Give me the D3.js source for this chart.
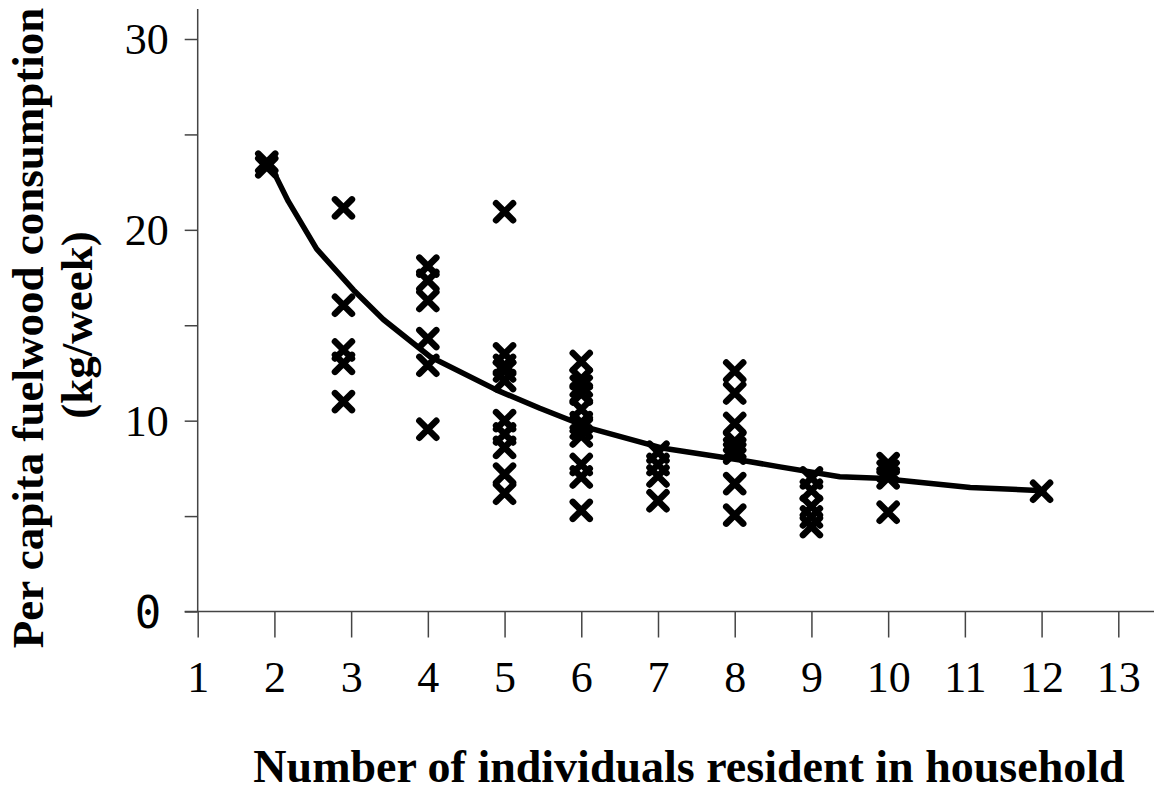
<!DOCTYPE html>
<html>
<head>
<meta charset="utf-8">
<script src="https://cdn.jsdelivr.net/npm/d3@7"></script>
<style>
  html, body { margin: 0; padding: 0; background: #fff; }
  svg { display: block; }
</style>
</head>
<body>
<svg id="chart" width="1154" height="798"></svg>
<script>
// ---- data ----
const householdSize = [
  1.9, 1.9,
  2.9, 2.9, 2.9, 2.9, 2.9,
  4, 4, 4, 4, 4, 4,
  5, 5, 5, 5, 5, 5, 5, 5, 5, 5,
  6, 6, 6, 6, 6, 6, 6, 6, 6, 6, 6,
  7, 7, 7, 7,
  8, 8, 8, 8, 8, 8, 8, 8,
  9, 9, 9, 9, 9,
  10, 10, 10, 10,
  12
];
const consumption = [
  23.3, 23.55,
  21.15, 16.05, 13.7, 13.0, 11.0,
  18.1, 17.35, 16.3, 14.3, 12.9, 9.55,
  20.95, 13.5, 12.9, 12.6, 12.1, 10.0, 9.3, 8.6, 7.2, 6.2,
  13.1, 12.2, 11.8, 11.4, 10.6, 9.9, 9.6, 9.2, 7.7, 7.05, 5.3,
  8.35, 7.7, 7.1, 5.8,
  12.6, 11.45, 9.85, 8.9, 8.55, 8.3, 6.7, 5.05,
  7.0, 6.35, 5.5, 4.95, 4.45,
  7.75, 7.35, 7.0, 5.2,
  6.3
];
// fitted trend line
const trendX = [1.92, 2.18, 2.55, 3.03, 3.42, 4.03, 4.9, 5.46, 6.12, 7.07, 8.07, 8.59, 9.37, 9.89, 11.07, 12.03];
const trendY = [23.6, 21.5, 19.0, 16.85, 15.3, 13.35, 11.6, 10.65, 9.6, 8.55, 7.94, 7.58, 7.06, 6.98, 6.5, 6.33];
const xTicks = [1, 2, 3, 4, 5, 6, 7, 8, 9, 10, 11, 12, 13];
const yTicks = [0, 5, 10, 15, 20, 25, 30];
const yTickLabels = ["0", "", "10", "", "20", "", "30"];
const xTitle = "Number of individuals resident in household";
const yTitle1 = "Per capita fuelwood consumption";
const yTitle2 = "(kg/week)";

// ---- drawing ----
const svg = d3.select("#chart");
const x = d3.scaleLinear().domain([1, 13]).range([197.7, 1118.3]);
const y = d3.scaleLinear().domain([0, 30]).range([611.5, 39]);
const axisColor = "#444";
const serif = "'Liberation Serif', 'Times New Roman', serif";

svg.append("line")
  .attr("x1", x(1)).attr("x2", x(1))
  .attr("y1", 9).attr("y2", y(0))
  .attr("stroke", axisColor).attr("stroke-width", 1.5);
svg.append("line")
  .attr("x1", x(1) - 13).attr("x2", 1154)
  .attr("y1", y(0)).attr("y2", y(0))
  .attr("stroke", axisColor).attr("stroke-width", 1.5);

const yAxis = svg.append("g")
  .attr("transform", `translate(${x(1)},0)`)
  .call(d3.axisLeft(y).tickValues(yTicks).tickSize(13).tickPadding(16)
    .tickFormat((d, i) => yTickLabels[i]));
yAxis.select(".domain").remove();
yAxis.selectAll(".tick line").attr("stroke", axisColor).attr("stroke-width", 1.5);
yAxis.selectAll(".tick text")
  .attr("fill", "#000")
  .style("font-family", serif).style("font-size", "44px")
  .attr("dy", "0.34em");
yAxis.selectAll(".tick text").filter(d => d === 0)
  .style("font-family", "'DejaVu Sans Mono', monospace")
  .style("font-size", "44px")
  .attr("text-anchor", "middle")
  .attr("x", 148 - x(1))
  .attr("dy", "0.36em");

const xAxis = svg.append("g")
  .attr("transform", `translate(0,${y(0)})`)
  .call(d3.axisBottom(x).tickValues(xTicks).tickSize(26).tickFormat(d3.format("d")));
xAxis.select(".domain").remove();
xAxis.selectAll(".tick line").attr("stroke", axisColor).attr("stroke-width", 1.5);
xAxis.selectAll(".tick text")
  .attr("fill", "#000")
  .attr("dy", null)
  .attr("y", 80)
  .style("font-family", serif).style("font-size", "44px");

const trend = trendX.map((d, i) => [d, trendY[i]]);
svg.append("path")
  .datum(trend)
  .attr("fill", "none")
  .attr("stroke", "#000")
  .attr("stroke-width", 5.5)
  .attr("stroke-linejoin", "round")
  .attr("stroke-linecap", "round")
  .attr("d", d3.line().x(d => x(d[0])).y(d => y(d[1])));

const pts = householdSize.map((d, i) => [d, consumption[i]]);
const h = 8.5;
const mk = svg.append("g").attr("stroke", "#000").attr("stroke-width", 6.5).attr("stroke-linecap", "round");
mk.selectAll("path").data(pts).join("path")
  .attr("d", d => {
    const cx = x(d[0]), cy = y(d[1]);
    return `M${cx - h},${cy - h}L${cx + h},${cy + h}M${cx - h},${cy + h}L${cx + h},${cy - h}`;
  });

svg.append("text")
  .attr("x", 689).attr("y", 782)
  .attr("text-anchor", "middle")
  .style("font-family", serif).style("font-weight", "bold").style("font-size", "46px")
  .text(xTitle);
svg.append("text")
  .attr("transform", "translate(43,328) rotate(-90)")
  .attr("text-anchor", "middle")
  .style("font-family", serif).style("font-weight", "bold").style("font-size", "45px")
  .text(yTitle1);
svg.append("text")
  .attr("transform", "translate(92,325) rotate(-90)")
  .attr("text-anchor", "middle")
  .style("font-family", serif).style("font-weight", "bold").style("font-size", "45px")
  .text(yTitle2);
</script>
</body>
</html>
